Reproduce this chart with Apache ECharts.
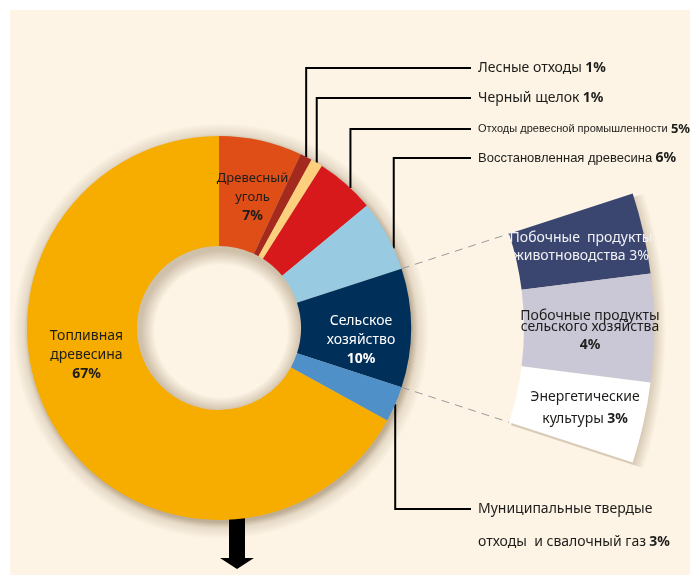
<!DOCTYPE html>
<html>
<head>
<meta charset="utf-8">
<script src="https://cdn.jsdelivr.net/npm/echarts@6/dist/echarts.min.js"></script>
<style>
  html, body { margin: 0; padding: 0; background: #ffffff; }
  #chart { width: 690px; height: 575px; }
</style>
</head>
<body>
<div id="chart"></div>
<script>
// Bioenergy sources: share of total supply, %
const sliceNames = [
  'Древесный\nуголь',
  'Лесные отходы',
  'Черный щелок',
  'Отходы древесной промышленности',
  'Восстановленная древесина',
  'Сельское\nхозяйство',
  'Муниципальные твердые\nотходы  и свалочный газ',
  'Топливная\nдревесина'
];
const sliceValues = [7, 1, 1, 5, 6, 10, 3, 67];
const sliceColors = ['#DE4E16', '#A52A1E', '#FDD07E', '#D8191C', '#98CAE2', '#00305A', '#5090C8', '#F7AC00'];

// Breakdown of the agriculture share
const agriNames = ['Побочные  продукты\nживотноводства', 'Побочные продукты\nсельского хозяйства', 'Энергетические\nкультуры'];
const agriValues = [3, 4, 3];
const agriColors = ['#3B4670', '#CAC8D6', '#FFFFFF'];
const agriIndex = 5;

// Layout
const CX = 219, CY = 328;
const R_IN = 82, R_OUT = 192;
const SUB_IN = 305, SUB_OUT = 435;
const FONT = '"Noto Sans", "Open Sans", sans-serif';
const NARROW = '"Liberation Sans", Arial, sans-serif';
const TEXT = '#1d1d1b';
const PANEL = '#FDF4E5';

// Callout rows to the right of the ring
const calloutRow = { 1: 68, 2: 98, 3: 129, 4: 158, 6: 509 };
// Where along a slice (0..1 of its sweep) the callout line leaves the ring
const calloutAnchor = { 3: 0.6, 4: 0.7 };
const CALLOUT_TEXT_X = 478;
const CALLOUT_LINE_END = 471;

const total = sliceValues.reduce((a, b) => a + b, 0);
const startAcc = [];
let acc = 0;
sliceValues.forEach(v => { startAcc.push(acc); acc += v; });
const agriStart = startAcc[agriIndex];
const agriEnd = agriStart + sliceValues[agriIndex];

function polar(r, ang) {
  return [CX + r * Math.sin(ang), CY - r * Math.cos(ang)];
}
function anchorAngle(i) {
  const f = calloutAnchor[i] !== undefined ? calloutAnchor[i] : 0.5;
  return (startAcc[i] + sliceValues[i] * f) / total * 2 * Math.PI;
}

const insideStyles = {
  0: { color: TEXT, offset: [3, 6] },
  5: { color: '#ffffff', offset: [2, 12] },
  7: { color: TEXT, offset: [-12, -44] }
};

// Callout font sizes: [name, value]
const calloutSize = { 1: [14, 14], 2: [14, 14], 3: [11, 13], 4: [13, 14], 6: [14, 14] };

const mainData = sliceNames.map((name, i) => {
  const item = { name: name, value: sliceValues[i], itemStyle: { color: sliceColors[i] } };
  if (insideStyles[i]) {
    const s = insideStyles[i];
    item.label = {
      show: true, position: 'inside', offset: s.offset,
      formatter: p => `{n|${p.name}}\n{b|${p.value}%}`,
      rich: {
        n: { color: s.color, fontSize: 14, lineHeight: 19, fontFamily: FONT, align: 'center' },
        b: { color: s.color, fontSize: 14, lineHeight: 19, fontWeight: 'bold', fontFamily: FONT, align: 'center' }
      }
    };
    if (i === 0) {
      item.label.rich.n.fontSize = 13;
    }
    item.labelLine = { show: false };
  } else {
    const narrow = i === 3 || i === 4;
    const tall = i === 6;
    const sz = calloutSize[i];
    item.label = {
      show: true, position: 'outside',
      formatter: p => tall
        ? `{n|Муниципальные твердые}\n{n|отходы  и свалочный газ} {b|${p.value}%}`
        : `{n|${p.name}} {b|${p.value}%}`,
      rich: {
        n: { color: TEXT, fontSize: sz[0], fontFamily: narrow ? NARROW : FONT, lineHeight: tall ? 33 : 18 },
        b: { color: TEXT, fontSize: sz[1], fontFamily: FONT, fontWeight: 'bold', lineHeight: tall ? 33 : 18 }
      }
    };
    item.labelLine = { show: true, lineStyle: { color: '#000', width: 2 } };
  }
  return item;
});

const agriData = [
  { name: 'before', value: agriStart, itemStyle: { color: 'rgba(0,0,0,0)' }, label: { show: false } }
].concat(agriNames.map((name, i) => ({
  name: name, value: agriValues[i],
  itemStyle: { color: agriColors[i] }
}))).concat([
  { name: 'after', value: total - agriEnd, itemStyle: { color: 'rgba(0,0,0,0)' }, label: { show: false } }
]);

const agriLabel = {
  1: { formatter: p => `{w|${p.name} ${p.value}%}`, offset: [-2, 0] },
  2: { formatter: p => `{t|${p.name}}\n{b|${p.value}%}`, offset: [-2, 6] },
  3: { formatter: p => `{n|${p.name.split('\n')[0]}}\n{n|${p.name.split('\n')[1]}} {b|${p.value}%}`, offset: [2, 0] }
};
agriData.forEach((d, i) => {
  if (agriLabel[i]) {
    d.label = {
      show: true, position: 'inside', formatter: agriLabel[i].formatter, offset: agriLabel[i].offset,
      rich: {
        w: { color: '#f2f2f6', fontSize: 14, lineHeight: 18, fontFamily: FONT, align: 'center' },
        t: { color: TEXT, fontSize: 14, lineHeight: 11, fontFamily: FONT, align: 'center' },
        n: { color: TEXT, fontSize: 14, lineHeight: 19, fontFamily: FONT, align: 'center' },
        b: { color: TEXT, fontSize: 14, lineHeight: 25, fontWeight: 'bold', fontFamily: FONT, align: 'center' }
      }
    };
  }
});

// Dashed connectors between the agriculture slice and its breakdown
const connectors = [agriStart, agriEnd].map(v => {
  const ang = v / total * 2 * Math.PI;
  const a = polar(R_OUT, ang), b = polar(SUB_IN, ang);
  return {
    type: 'line', silent: true, z: 1,
    shape: { x1: a[0], y1: a[1], x2: b[0], y2: b[1] },
    style: { stroke: '#9a9a9a', lineWidth: 1, lineDash: [8, 6] }
  };
});

// Soft shading around the ring (outside halo and into the hole)
const SH = 16, SDX = 2, SDY = 3, SR = R_OUT + SH;
const ringShade = {
  type: 'circle', silent: true, z: 0,
  shape: { cx: CX + SDX, cy: CY + SDY, r: SR },
  style: {
    fill: {
      type: 'radial', x: CX + SDX, y: CY + SDY, r: SR, global: true,
      colorStops: [
        { offset: 0, color: 'rgba(90,60,20,0)' },
        { offset: (R_IN - 16) / SR, color: 'rgba(90,60,20,0)' },
        { offset: (R_IN - 2) / SR, color: 'rgba(90,60,20,0.28)' },
        { offset: (R_OUT - 1) / SR, color: 'rgba(90,60,20,0.38)' },
        { offset: (R_OUT + 5) / SR, color: 'rgba(90,60,20,0.14)' },
        { offset: 1, color: 'rgba(90,60,20,0)' }
      ]
    }
  }
};
const SR2 = SUB_OUT + 10;
const subShade = {
  type: 'sector', silent: true, z: 0,
  shape: {
    cx: CX + SDX, cy: CY + SDY, r: SR2, r0: SUB_IN,
    startAngle: agriStart / total * 2 * Math.PI - Math.PI / 2,
    endAngle: agriEnd / total * 2 * Math.PI - Math.PI / 2
  },
  style: {
    fill: {
      type: 'radial', x: CX + SDX, y: CY + SDY, r: SR2, global: true,
      colorStops: [
        { offset: (SUB_OUT - 2) / SR2, color: 'rgba(90,60,20,0.22)' },
        { offset: 1, color: 'rgba(90,60,20,0)' }
      ]
    }
  }
};

// Downward arrow under the ring
const ax = CX + 18, ay = CY + R_OUT - 4;
const arrow = {
  type: 'polygon', silent: true, z: 2,
  shape: { points: [
    [ax - 8, ay], [ax + 8, ay], [ax + 8, ay + 42], [ax + 17, ay + 42],
    [ax, ay + 53], [ax - 17, ay + 42], [ax - 8, ay + 42]
  ] },
  style: { fill: '#000' }
};

const chart = echarts.init(document.getElementById('chart'), null, { renderer: 'canvas' });
chart.setOption({
  animation: false,
  backgroundColor: '#ffffff',
  graphic: [
    { type: 'rect', silent: true, z: -10, shape: { x: 10, y: 10, width: 680, height: 565 }, style: { fill: PANEL } },
    ringShade,
    subShade,
    arrow
  ].concat(connectors),
  series: [
    {
      type: 'pie', silent: true, z: 3,
      center: [CX, CY], radius: [R_IN, R_OUT],
      startAngle: 90, clockwise: true,
      avoidLabelOverlap: false,
      itemStyle: { borderWidth: 0 },
      data: mainData,
      labelLayout: function (params) {
        const i = params.dataIndex;
        const row = calloutRow[i];
        if (row === undefined) return {};
        const s = polar(R_OUT, anchorAngle(i));
        const tall = i === 6;
        return {
          x: CALLOUT_TEXT_X,
          y: tall ? row - 16.5 : row,
          align: 'left',
          verticalAlign: tall ? 'top' : 'middle',
          labelLinePoints: [[s[0], s[1]], [s[0], row], [CALLOUT_LINE_END, row]]
        };
      }
    },
    {
      type: 'pie', silent: true, z: 3,
      center: [CX, CY], radius: [SUB_IN, SUB_OUT],
      startAngle: 90, clockwise: true,
      avoidLabelOverlap: false,
      labelLine: { show: false },
      data: agriData
    }
  ]
});
</script>
</body>
</html>
